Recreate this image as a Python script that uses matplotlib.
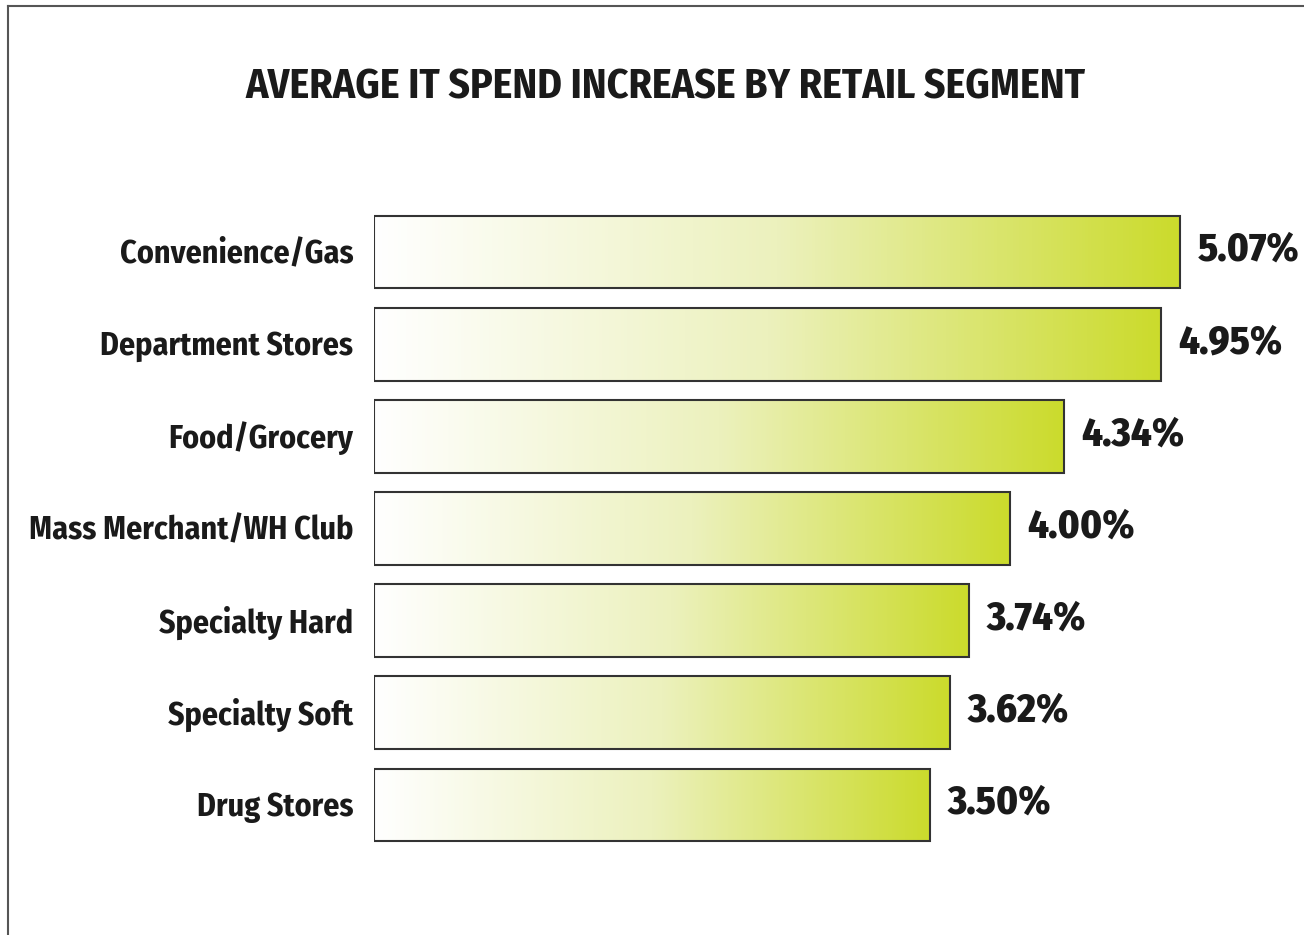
import matplotlib.pyplot as plt
import numpy as np
from matplotlib.colors import LinearSegmentedColormap
from matplotlib.lines import Line2D

segments = ['Convenience/Gas', 'Department Stores', 'Food/Grocery',
            'Mass Merchant/WH Club', 'Specialty Hard', 'Specialty Soft',
            'Drug Stores']
increase = [5.07, 4.95, 4.34, 4.00, 3.74, 3.62, 3.50]
value_labels = ['5.07%', '4.95%', '4.34%', '4.00%', '3.74%', '3.62%', '3.50%']

narrow = ['Fira Sans Condensed', 'DejaVu Sans']

W, H = 1304, 935
fig = plt.figure(figsize=(W / 100, H / 100), dpi=100)
fig.patch.set_facecolor('white')

# axes placed in pixel terms: bars start at x=374, rows centred 252..805
x0, px_per_unit = 374, 159
xmax = 5.6
row_gap = (805 - 252) / 6
top = 252 - row_gap / 2
bottom = 805 + row_gap / 2
ax = fig.add_axes([x0 / W, 1 - bottom / H, xmax * px_per_unit / W, (bottom - top) / H])

cmap = LinearSegmentedColormap.from_list('lime', ['#ffffff', '#ecf1bd', '#cbdb2c'])
grad = np.linspace(0, 1, 256).reshape(1, -1)
bar_h = 0.79

for i, (name, val, lab) in enumerate(zip(segments, increase, value_labels)):
    ax.imshow(grad, cmap=cmap, aspect='auto', interpolation='bilinear',
              extent=(0, val, i + bar_h / 2, i - bar_h / 2), zorder=1)
    ax.text(-0.13, i + 0.02, name, ha='right', va='center', fontsize=23,
            fontweight='bold', family=narrow, color='#1a1a1a')
    ax.text(val + 0.11, i - 0.02, lab, ha='left', va='center', fontsize=29,
            fontweight=800, family=narrow, color='#1a1a1a')

ax.barh(range(len(segments)), increase, height=bar_h, fill=False,
        edgecolor='#333333', linewidth=1.5, zorder=2)
ax.set_xlim(0, xmax)
ax.set_ylim(len(segments) - 0.5, -0.5)
ax.axis('off')

fig.text(665 / W, 1 - 87 / H, 'AVERAGE IT SPEND INCREASE BY RETAIL SEGMENT',
         ha='center', va='center', fontsize=30, fontweight='bold',
         family=narrow, color='#1a1a1a')

# outer frame: left and top edges only
fig.add_artist(Line2D([8 / W, 8 / W], [0, 1 - 6 / H], color='#555555', lw=1.5))
fig.add_artist(Line2D([8 / W, 1], [1 - 6 / H, 1 - 6 / H], color='#555555', lw=1.5))

fig.savefig('out.png', dpi=100, facecolor='white')
